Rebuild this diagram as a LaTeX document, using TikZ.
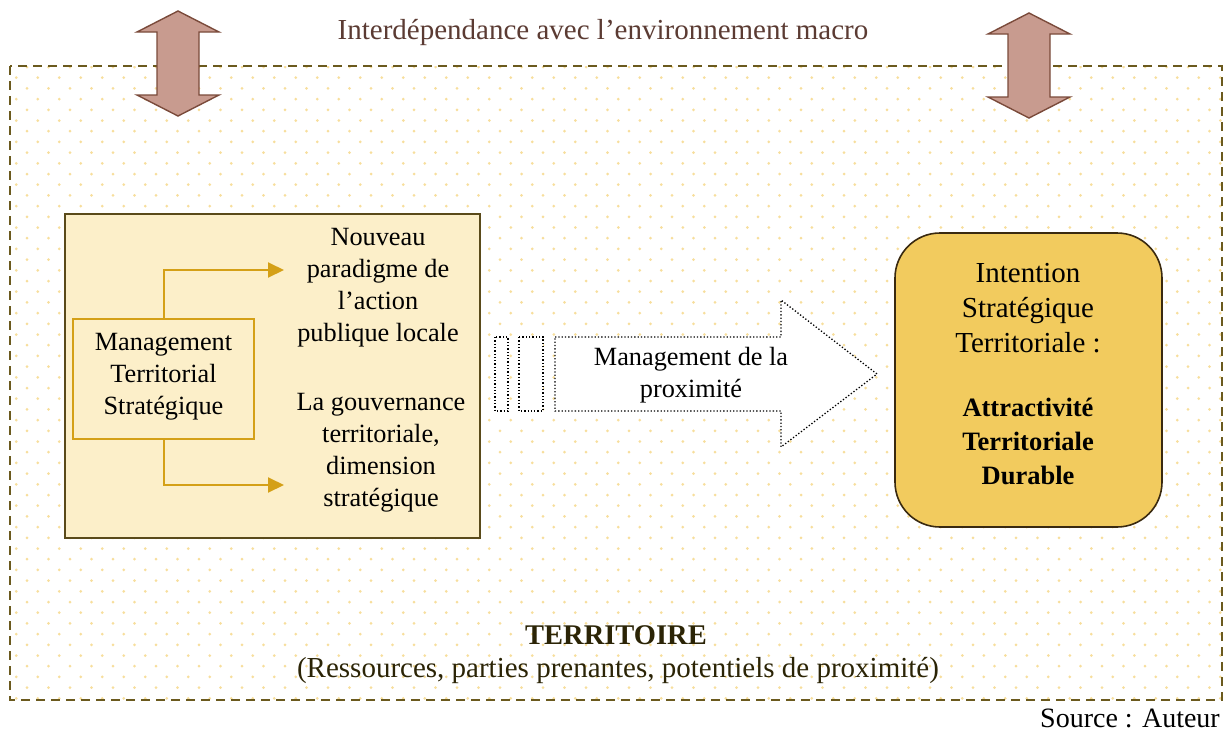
\documentclass[tikz,border=0pt]{standalone}
\usepackage{fontspec}
\setmainfont{Liberation Serif}
\definecolor{dotc}{HTML}{F7DE9C}
\definecolor{frame}{HTML}{6B5A1E}
\definecolor{arrfill}{HTML}{C89B8F}
\definecolor{arrdraw}{HTML}{7A4A3A}
\definecolor{titlec}{HTML}{5B3B33}
\definecolor{leftfill}{HTML}{FCEFC9}
\definecolor{leftdraw}{HTML}{5A4A1A}
\definecolor{gold}{HTML}{D4A017}
\definecolor{rightfill}{HTML}{F2CB5E}
\definecolor{rightdraw}{HTML}{3A2A10}
\definecolor{terrc}{HTML}{2B2406}
\tikzset{
  txt/.style={align=center, inner sep=0pt, font=\fontsize{26.3}{32}\selectfont},
  bigtxt/.style={align=center, inner sep=0pt, font=\fontsize{29}{35}\selectfont},
  bigarrow/.style={fill=arrfill, draw=arrdraw, line width=1.4pt, line join=miter},
  goldarrow/.style={draw=gold, line width=2pt, -{Triangle[length=16pt,width=15pt]}},
  dotline/.style={draw=black, line width=1.3pt, dotted, fill=white}
}
\usetikzlibrary{arrows.meta}
\begin{document}
\begin{tikzpicture}[x=1pt,y=-1pt]
\useasboundingbox (0,0) rectangle (1224,734);
% dotted background
\begin{scope}
\clip (10,66) rectangle (1222,700);
\foreach \j in {0,...,59} {
  \foreach \i in {0,...,57} {
    \fill[dotc] ({27+21.5*\i-10.75*mod(\j,2)},{67+10.7*\j}) circle (1.5);
  }
}
\end{scope}
% frame
\draw[frame, line width=1.6pt, dash pattern=on 9pt off 6pt] (10,66) rectangle (1222,700);
% title
\node[bigtxt, text=titlec] (title) at (603,33) {Interdépendance avec l’environnement macro};
% double arrows
\foreach \cx/\yt/\yb/\nm in {178/11/116/la, 1029/13/118/ra} {
  \draw[bigarrow] (\cx,\yt) -- (\cx+41,\yt+21) -- (\cx+21,\yt+21) -- (\cx+21,\yb-21) -- (\cx+41,\yb-21)
     -- (\cx,\yb) -- (\cx-41,\yb-21) -- (\cx-21,\yb-21) -- (\cx-21,\yt+21) -- (\cx-41,\yt+21) -- cycle;
}
% left box
\node[draw=leftdraw, fill=leftfill, line width=1.8pt, minimum width=415pt, minimum height=324pt, inner sep=0pt] (left) at (272.5,376) {};
\node[draw=gold, line width=1.8pt, minimum width=181pt, minimum height=120pt, inner sep=0pt] (mtsbox) at (163.5,379) {};
\node[txt] (mts) at (163.5,377) {Management\\Territorial\\Stratégique};
\node[txt] (nouveau) at (378,288) {Nouveau\\paradigme de\\l’action\\publique locale};
\node[txt] (gouv) at (381,453) {La gouvernance\\territoriale,\\dimension\\stratégique};
\coordinate (t1) at (284,270);
\coordinate (t2) at (284,485);
\draw[goldarrow] (mtsbox.north) |- (t1);
\draw[goldarrow] (mtsbox.south) |- (t2);
% dotted arrow
\draw[dotline] (495,337) rectangle (508,411);
\draw[dotline] (519,337) rectangle (543,411);
\draw[dotline] (555,337) -- (781,337) -- (781,300) -- (877,374) -- (781,447) -- (781,411) -- (555,411) -- cycle;
\node[txt] (prox) at (691,375) {Management de la\\proximité};
% right box
\node[draw=rightdraw, fill=rightfill, line width=1.6pt, rounded corners=45pt, minimum width=267pt, minimum height=294pt, inner sep=0pt] (right) at (1028.5,380) {};
\node[bigtxt] (intent) at (1028,308) {Intention\\Stratégique\\Territoriale :};
\node[txt, font=\fontsize{26.5}{34}\bfseries\selectfont] (attr) at (1028,441) {Attractivité\\Territoriale\\Durable};
% bottom texts
\node[bigtxt, text=terrc, font=\fontsize{28.5}{34}\bfseries\selectfont] (terr) at (616,635) {TERRITOIRE};
\node[bigtxt, text=terrc] (res) at (618,670) {(Ressources, parties prenantes, potentiels de proximité)};
\node[bigtxt, anchor=east, font=\fontsize{28}{34}\selectfont] (src) at (1220,718) {Source : Auteur};
\end{tikzpicture}
\end{document}
